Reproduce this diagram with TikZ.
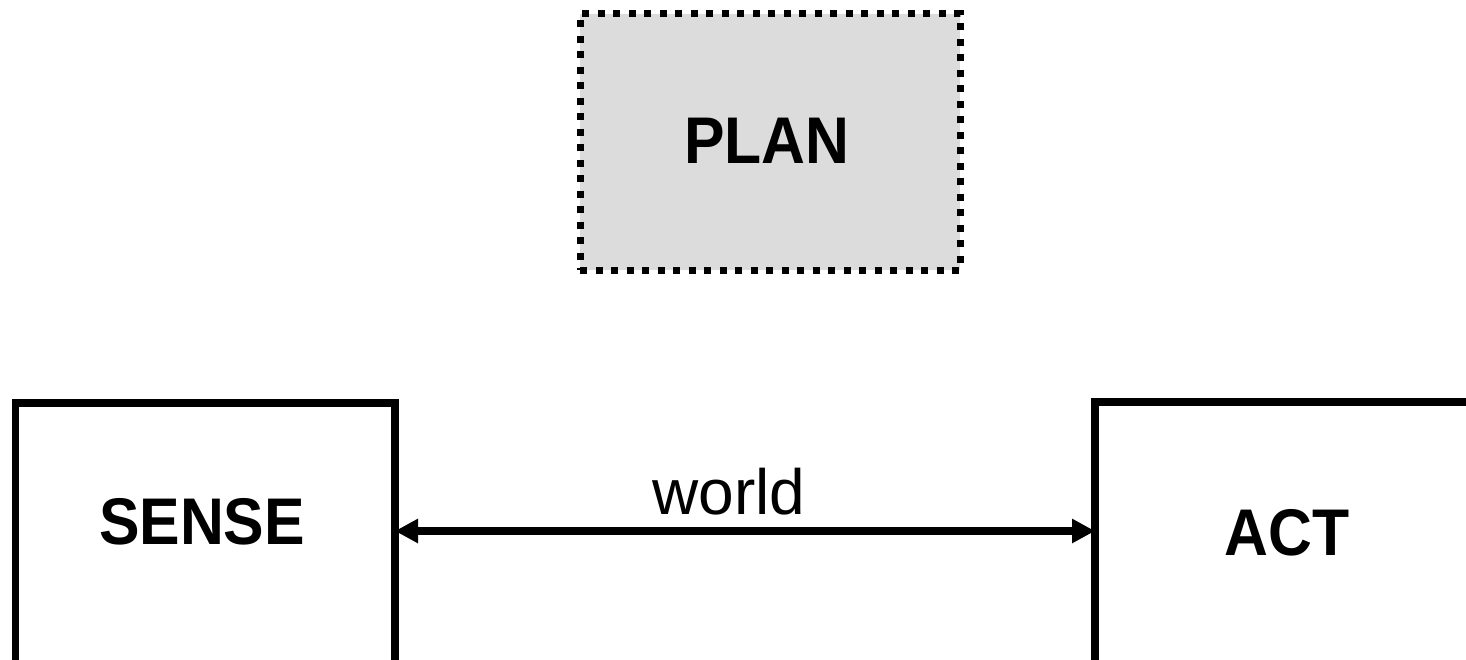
\documentclass[tikz,border=0pt]{standalone}
\usepackage{fontspec}
\setmainfont{Liberation Sans}
\newfontfamily\boxfont[FakeStretch=0.92]{Liberation Sans Bold}
\usetikzlibrary{arrows.meta}
\definecolor{plangray}{HTML}{DCDCDC}
\tikzset{
  blockbox/.style={draw=black, line width=7.5pt, fill=white, inner sep=0pt, outer sep=0pt},
  planbox/.style={draw=black, line width=7pt, fill=plangray, dash pattern=on 7pt off 8.5pt, inner sep=0pt, outer sep=0pt},
  boxlabel/.style={font=\boxfont\fontsize{66}{70}\selectfont, inner sep=0pt},
  linklabel/.style={font=\fontsize{64}{68}\selectfont, inner sep=0pt},
  link/.style={line width=8pt, {Triangle[length=23pt 0 0,width=23pt 0 0]}-{Triangle[length=23pt 0 0,width=23pt 0 0]}}
}
\begin{document}
\begin{tikzpicture}[x=1pt,y=-1pt]
\useasboundingbox (0,0) rectangle (1466,659);
\clip (0,0) rectangle (1466,659);
\fill[white] (0,0) rectangle (1466,659);
% boxes
\node[planbox, minimum width=380pt, minimum height=256.5pt] (plan) at (770,141.75) {};
\node[blockbox, minimum width=379.5pt, minimum height=320pt] (sense) at (205.25,563) {};
\node[blockbox, minimum width=420pt, minimum height=320pt] (act) at (1305,562) {};
% labels
\node[boxlabel] (plantext) at (767,141) {PLAN};
\node[boxlabel] (sensetext) at (202,522) {SENSE};
\node[boxlabel] (acttext) at (1287,533) {ACT};
% connector
\coordinate (sr) at (sense.east |- 0,531);
\coordinate (al) at (act.west |- 0,531);
\draw[link] (sr) -- (al);
\node[linklabel, anchor=base] (world) at (729,514) {world};
\end{tikzpicture}
\end{document}
